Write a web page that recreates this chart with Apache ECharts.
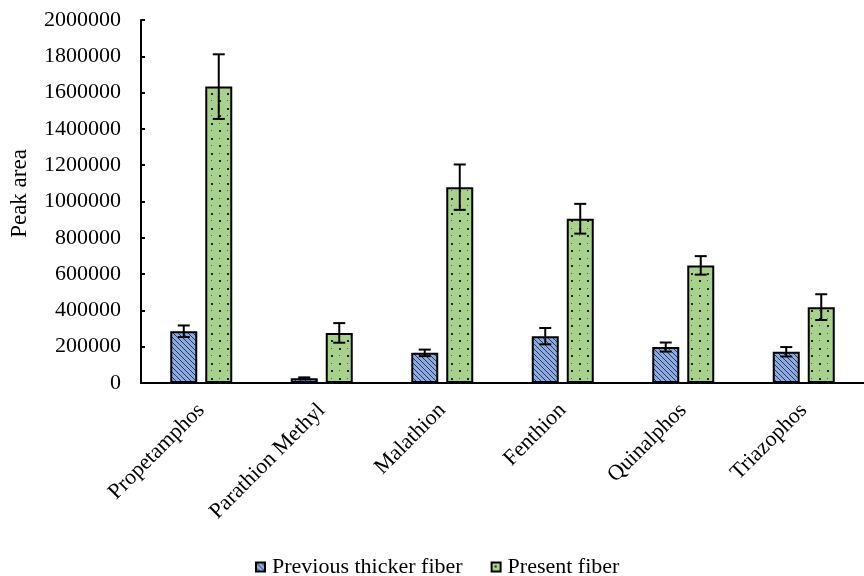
<!DOCTYPE html>
<html>
<head>
<meta charset="utf-8">
<script src="https://cdn.jsdelivr.net/npm/echarts@6/dist/echarts.min.js"></script>
<style>html,body{margin:0;padding:0;background:#fff}#c{width:864px;height:576px}</style>
</head>
<body>
<div id="c"></div>
<script>
var categories = ['Propetamphos', 'Parathion Methyl', 'Malathion', 'Fenthion', 'Quinalphos', 'Triazophos'];
var previousValues = [285000, 26000, 166000, 258000, 198000, 172000];
var previousErrors = [32000, 5000, 18000, 45000, 25000, 26000];
var presentValues = [1633000, 276000, 1079000, 905000, 648000, 418000];
var presentErrors = [178000, 54000, 125000, 82000, 51000, 71000];
var yTicks = [0, 200000, 400000, 600000, 800000, 1000000, 1200000, 1400000, 1600000, 1800000, 2000000];

function hatchPattern() {
  var c = document.createElement('canvas');
  c.width = 5; c.height = 5;
  var g = c.getContext('2d');
  g.fillStyle = '#8FAADC';
  g.fillRect(0, 0, 5, 5);
  g.strokeStyle = '#1F3864';
  g.lineWidth = 1;
  g.beginPath();
  g.moveTo(-1, -1); g.lineTo(6, 6);
  g.moveTo(-1, 4); g.lineTo(1, 6);
  g.moveTo(4, -1); g.lineTo(6, 1);
  g.stroke();
  return c;
}
function dotPattern() {
  var c = document.createElement('canvas');
  c.width = 16; c.height = 15;
  var g = c.getContext('2d');
  g.fillStyle = '#A9D18E';
  g.fillRect(0, 0, 16, 15);
  g.fillStyle = '#222';
  g.fillRect(3, 3, 2, 2);
  g.fillRect(11, 10, 2, 2);
  g.fillStyle = '#555';
  g.fillRect(11, 3, 1, 1);
  g.fillRect(3, 10, 1, 1);
  return c;
}

var BW = 27, GAP = 8;
function errRender(vals, errs, dir) {
  return function (params, api) {
    var i = api.value(0);
    var v = vals[i], e = errs[i];
    var top = api.coord([i, v + e]);
    var bot = api.coord([i, v - e]);
    var x = top[0] + dir * (BW + GAP) / 2;
    var cap = 6;
    var st = { stroke: '#000', lineWidth: 2 };
    return {
      type: 'group',
      children: [
        { type: 'line', shape: { x1: x, y1: top[1], x2: x, y2: bot[1] }, style: st },
        { type: 'line', shape: { x1: x - cap, y1: top[1], x2: x + cap, y2: top[1] }, style: st },
        { type: 'line', shape: { x1: x - cap, y1: bot[1], x2: x + cap, y2: bot[1] }, style: st }
      ]
    };
  };
}

var chart = echarts.init(document.getElementById('c'), null, { renderer: 'canvas' });
var font = 'Liberation Serif';
chart.setOption({
  animation: false,
  textStyle: { fontFamily: font },
  grid: { left: 141, top: 20, width: 731, height: 363, containLabel: false },
  legend: {
    top: 551,
    left: 250,
    icon: 'rect',
    itemWidth: 9,
    itemHeight: 9,
    itemGap: 28,
    textStyle: { fontFamily: font, fontSize: 22, color: '#000', padding: [0, 0, 0, 2] },
    data: ['Previous thicker fiber', 'Present fiber']
  },
  xAxis: {
    type: 'category',
    data: categories,
    axisLine: { lineStyle: { color: '#000', width: 2 } },
    axisTick: { inside: true, length: 6, lineStyle: { color: '#000', width: 2 } },
    axisLabel: { rotate: 45, fontFamily: font, fontSize: 22, color: '#000', margin: 24, interval: 0 }
  },
  yAxis: {
    type: 'value',
    min: 0, max: 2000000, interval: 200000,
    name: 'Peak area',
    nameLocation: 'middle',
    nameGap: 110,
    nameTextStyle: { fontFamily: font, fontSize: 23, color: '#000', padding: [0, 0, 0, 16] },
    splitLine: { show: false },
    axisLine: { show: true, lineStyle: { color: '#000', width: 2 } },
    axisTick: { show: true, inside: true, length: 4, lineStyle: { color: '#000', width: 2 } },
    axisLabel: { fontFamily: font, fontSize: 22, color: '#000', margin: 20,
      formatter: function (v) { return yTicks.indexOf(v) >= 0 ? String(v) : ''; } }
  },
  series: [
    {
      name: 'Previous thicker fiber', type: 'bar', data: previousValues,
      barWidth: BW, barGap: (GAP / BW * 100) + '%',
      itemStyle: { color: { image: hatchPattern(), repeat: 'repeat' }, borderColor: '#000', borderWidth: 2 }
    },
    {
      name: 'Present fiber', type: 'bar', data: presentValues,
      barWidth: BW,
      itemStyle: { color: { image: dotPattern(), repeat: 'repeat' }, borderColor: '#000', borderWidth: 2 }
    },
    {
      type: 'custom', name: 'errPrev', data: categories.map(function (c, i) { return [i, previousValues[i]]; }),
      renderItem: errRender(previousValues, previousErrors, -1), z: 10
    },
    {
      type: 'custom', name: 'errPres', data: categories.map(function (c, i) { return [i, presentValues[i]]; }),
      renderItem: errRender(presentValues, presentErrors, 1), z: 10
    }
  ]
});
</script>
</body>
</html>
